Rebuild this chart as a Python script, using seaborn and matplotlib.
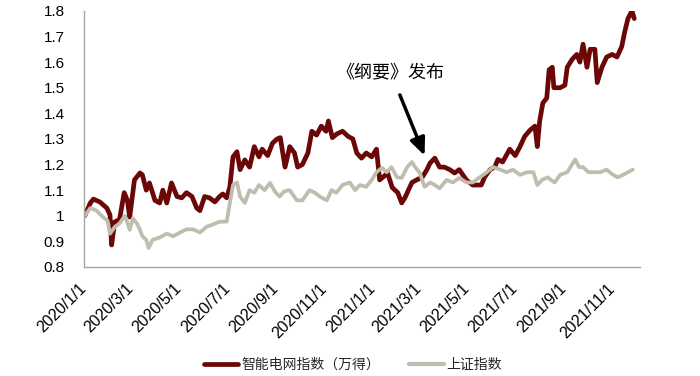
import matplotlib
matplotlib.use("Agg")
import matplotlib.pyplot as plt
import matplotlib.dates as mdates
import matplotlib.ticker as mticker
from matplotlib.lines import Line2D
import seaborn as sns
import pandas as pd

# ---- data ----
series_names = ["智能电网指数（万得）", "上证指数"]

grid_dates = [
    "2020-01-02", "2020-01-09", "2020-01-13", "2020-01-21", "2020-01-30", "2020-02-03",
    "2020-02-05", "2020-02-09", "2020-02-15", "2020-02-21", "2020-02-25", "2020-02-28",
    "2020-03-05", "2020-03-12", "2020-03-15", "2020-03-20", "2020-03-24", "2020-03-31",
    "2020-04-06", "2020-04-10", "2020-04-15", "2020-04-21", "2020-04-28", "2020-05-04",
    "2020-05-10", "2020-05-17", "2020-05-23", "2020-05-27", "2020-06-02", "2020-06-08",
    "2020-06-15", "2020-06-21", "2020-06-25", "2020-06-30", "2020-07-04", "2020-07-08",
    "2020-07-13", "2020-07-17", "2020-07-23", "2020-07-29", "2020-08-04", "2020-08-10",
    "2020-08-14", "2020-08-21", "2020-08-27", "2020-09-02", "2020-09-06", "2020-09-12",
    "2020-09-18", "2020-09-24", "2020-09-28", "2020-10-04", "2020-10-11", "2020-10-16",
    "2020-10-22", "2020-10-28", "2020-11-03", "2020-11-06", "2020-11-11", "2020-11-17",
    "2020-11-24", "2020-12-01", "2020-12-07", "2020-12-12", "2020-12-18", "2020-12-24",
    "2020-12-31", "2021-01-06", "2021-01-10", "2021-01-14", "2021-01-20", "2021-01-26",
    "2021-02-02", "2021-02-07", "2021-02-11", "2021-02-20", "2021-02-26", "2021-03-05",
    "2021-03-11", "2021-03-15", "2021-03-21", "2021-03-27", "2021-04-02", "2021-04-09",
    "2021-04-15", "2021-04-21", "2021-04-30", "2021-05-08", "2021-05-19", "2021-05-23",
    "2021-05-30", "2021-06-05", "2021-06-09", "2021-06-15", "2021-06-24", "2021-07-01",
    "2021-07-07", "2021-07-13", "2021-07-20", "2021-07-26", "2021-07-29", "2021-08-01",
    "2021-08-05", "2021-08-10", "2021-08-13", "2021-08-17", "2021-08-19", "2021-08-27",
    "2021-09-02", "2021-09-05", "2021-09-11", "2021-09-17", "2021-09-21", "2021-09-25",
    "2021-09-30", "2021-10-04", "2021-10-10", "2021-10-13", "2021-10-19", "2021-10-25",
    "2021-11-01", "2021-11-07", "2021-11-13", "2021-11-17", "2021-11-21", "2021-11-26",
    "2021-11-29",
]
grid_values = [
    1.00, 1.05, 1.065, 1.054, 1.03, 1.003,
    0.886, 0.976, 0.985, 1.09, 1.06, 0.995,
    1.14, 1.167, 1.16, 1.10, 1.128, 1.06,
    1.05, 1.10, 1.05, 1.128, 1.075, 1.07,
    1.09, 1.075, 1.03, 1.02, 1.075, 1.07,
    1.054, 1.075, 1.085, 1.07, 1.113, 1.23,
    1.25, 1.18, 1.218, 1.19, 1.27, 1.23,
    1.26, 1.235, 1.283, 1.30, 1.305, 1.19,
    1.27, 1.245, 1.19, 1.20, 1.245, 1.33,
    1.315, 1.35, 1.33, 1.37, 1.305, 1.32,
    1.33, 1.31, 1.30, 1.245, 1.225, 1.245,
    1.23, 1.26, 1.14, 1.15, 1.167, 1.11,
    1.09, 1.05, 1.07, 1.13, 1.14, 1.15,
    1.18, 1.206, 1.225, 1.19, 1.19, 1.18,
    1.167, 1.18, 1.14, 1.12, 1.12, 1.15,
    1.18, 1.19, 1.22, 1.21, 1.26, 1.235,
    1.27, 1.31, 1.335, 1.35, 1.27, 1.37,
    1.44, 1.46, 1.57, 1.58, 1.50, 1.50,
    1.51, 1.58, 1.61, 1.63, 1.60, 1.67,
    1.58, 1.65, 1.65, 1.52, 1.58, 1.62,
    1.63, 1.62, 1.66, 1.72, 1.77, 1.80,
    1.77,
]

sh_dates = [
    "2020-01-02", "2020-01-09", "2020-01-17", "2020-01-25", "2020-01-31", "2020-02-03",
    "2020-02-09", "2020-02-15", "2020-02-22", "2020-02-28", "2020-03-03", "2020-03-08",
    "2020-03-12", "2020-03-15", "2020-03-20", "2020-03-23", "2020-03-28", "2020-04-06",
    "2020-04-15", "2020-04-23", "2020-05-02", "2020-05-10", "2020-05-18", "2020-05-27",
    "2020-06-05", "2020-06-12", "2020-06-21", "2020-06-30", "2020-07-04", "2020-07-08",
    "2020-07-13", "2020-07-17", "2020-07-23", "2020-07-29", "2020-08-04", "2020-08-10",
    "2020-08-17", "2020-08-24", "2020-08-30", "2020-09-05", "2020-09-11", "2020-09-18",
    "2020-09-27", "2020-10-04", "2020-10-13", "2020-10-20", "2020-10-26", "2020-11-04",
    "2020-11-10", "2020-11-16", "2020-11-24", "2020-12-03", "2020-12-10", "2020-12-16",
    "2020-12-24", "2020-12-31", "2021-01-06", "2021-01-13", "2021-01-19", "2021-01-25",
    "2021-02-01", "2021-02-07", "2021-02-14", "2021-02-20", "2021-02-24", "2021-03-02",
    "2021-03-08", "2021-03-15", "2021-03-21", "2021-03-27", "2021-04-05", "2021-04-13",
    "2021-04-21", "2021-04-30", "2021-05-08", "2021-05-17", "2021-05-26", "2021-06-03",
    "2021-06-12", "2021-06-20", "2021-06-28", "2021-07-07", "2021-07-16", "2021-07-24",
    "2021-07-29", "2021-08-04", "2021-08-11", "2021-08-20", "2021-08-27", "2021-09-05",
    "2021-09-11", "2021-09-15", "2021-09-20", "2021-09-25", "2021-10-02", "2021-10-09",
    "2021-10-17", "2021-10-25", "2021-11-02", "2021-11-08", "2021-11-15", "2021-11-21",
    "2021-11-27",
]
sh_values = [
    1.00, 1.03, 1.02, 0.995, 0.98, 0.93,
    0.956, 0.97, 1.00, 0.945, 0.99, 0.97,
    0.945, 0.92, 0.906, 0.874, 0.906, 0.915,
    0.93, 0.92, 0.935, 0.947, 0.947, 0.935,
    0.958, 0.965, 0.977, 0.977, 1.05, 1.12,
    1.13, 1.075, 1.05, 1.10, 1.09, 1.12,
    1.10, 1.128, 1.095, 1.075, 1.095, 1.10,
    1.06, 1.06, 1.10, 1.09, 1.075, 1.06,
    1.10, 1.09, 1.12, 1.13, 1.10, 1.12,
    1.113, 1.14, 1.17, 1.187, 1.17, 1.19,
    1.15, 1.148, 1.19, 1.21, 1.19, 1.167,
    1.113, 1.13, 1.12, 1.107, 1.14, 1.13,
    1.148, 1.13, 1.13, 1.15, 1.17, 1.19,
    1.18, 1.17, 1.18, 1.16, 1.17, 1.17,
    1.12, 1.14, 1.15, 1.13, 1.16, 1.17,
    1.20, 1.22, 1.19, 1.19, 1.17, 1.17,
    1.17, 1.18, 1.16, 1.15, 1.16, 1.17,
    1.18,
]

y_ticks = [0.8, 0.9, 1.0, 1.1, 1.2, 1.3, 1.4, 1.5, 1.6, 1.7, 1.8]
annotation_text = "《纲要》发布"

# ---- build frame ----
df = pd.concat([
    pd.DataFrame({"date": pd.to_datetime(grid_dates), "value": grid_values, "series": series_names[0]}),
    pd.DataFrame({"date": pd.to_datetime(sh_dates), "value": sh_values, "series": series_names[1]}),
], ignore_index=True)

sns.set_theme(style="white")
plt.rcParams["font.family"] = ["Liberation Sans", "Noto Sans CJK SC", "DejaVu Sans"]

RED = "#6B0707"
GREY = "#BFBDAD"
AXIS_GREY = "#A6A6A6"

fig = plt.figure(figsize=(7.0, 3.76), dpi=100)
ax = fig.add_axes([0.12, 0.29, 0.794, 0.681])

sns.lineplot(data=df, x="date", y="value", hue="series",
             palette={series_names[0]: RED, series_names[1]: GREY},
             hue_order=series_names, ax=ax, legend=False,
             estimator=None, sort=True)
lines = ax.get_lines()
lines[0].set_linewidth(3.4)
lines[1].set_linewidth(2.7)
for ln in lines:
    ln.set_solid_joinstyle("round")

ax.set_ylim(0.8, 1.8)
ax.set_xlim(pd.Timestamp("2020-01-01"), pd.Timestamp("2021-12-06"))
ax.set_yticks(y_ticks)
ax.yaxis.set_major_formatter(mticker.FuncFormatter(lambda v, p: f"{v:g}"))
ax.xaxis.set_major_locator(mdates.MonthLocator(bymonth=[1, 3, 5, 7, 9, 11]))
ax.xaxis.set_major_formatter(mticker.FuncFormatter(
    lambda v, p: f"{mdates.num2date(v).year}/{mdates.num2date(v).month}/{mdates.num2date(v).day}"))
ax.set_xlabel("")
ax.set_ylabel("")

for s in ["top", "right"]:
    ax.spines[s].set_visible(False)
for s in ["left", "bottom"]:
    ax.spines[s].set_color(AXIS_GREY)
    ax.spines[s].set_linewidth(1.0)

ax.tick_params(axis="y", length=0, labelsize=11, pad=14, labelcolor="black")
ax.tick_params(axis="x", length=4, width=1, color=AXIS_GREY, direction="out",
               labelsize=11.5, labelcolor="black", pad=10)
for lab in ax.get_xticklabels():
    lab.set_rotation(45)
    lab.set_ha("right")
    lab.set_va("center")
    lab.set_rotation_mode("anchor")

ax.annotate(annotation_text,
            xy=(pd.Timestamp("2021-03-08"), 1.235),
            xytext=(pd.Timestamp("2021-01-24"), 1.56),
            ha="center", va="center", fontsize=13,
            family=["Noto Sans CJK SC", "DejaVu Sans"], color="black",
            arrowprops=dict(arrowstyle="-|>,head_length=0.8,head_width=0.35",
                            color="black", lw=2.5, shrinkA=8, shrinkB=0))

handles = [Line2D([0], [0], color=RED, lw=3.4), Line2D([0], [0], color=GREY, lw=3.0)]
fig.legend(handles, series_names, loc="center", bbox_to_anchor=(0.504, 0.03),
           ncol=2, frameon=False, handlelength=2.5, handletextpad=0.2,
           columnspacing=2.1, prop={"family": ["Noto Sans CJK SC", "DejaVu Sans"], "size": 10})

fig.savefig("out.png", dpi=100)
